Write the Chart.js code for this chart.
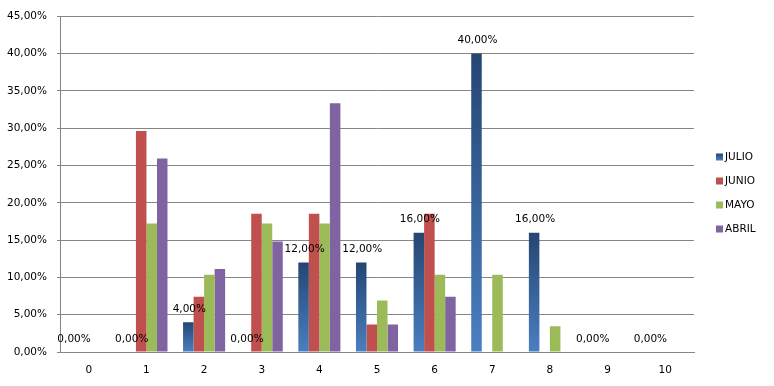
<!DOCTYPE html>
<html>
<head>
<meta charset="utf-8">
<script src="https://cdn.jsdelivr.net/npm/chart.js@4/dist/chart.umd.min.js"></script>
<style>
html,body{margin:0;padding:0;background:#fff;}
#wrap{width:774px;height:386px;}
</style>
</head>
<body>
<div id="wrap"><canvas id="c" width="774" height="386"></canvas></div>
<script>
const categories = ['0','1','2','3','4','5','6','7','8','9','10'];
const seriesNames = ['JULIO','JUNIO','MAYO','ABRIL'];
const julio = [0, 0, 0.04, 0, 0.12, 0.12, 0.16, 0.40, 0.16, 0, 0];
const junio = [0, 0.2963, 0.0741, 0.1852, 0.1852, 0.0370, 0.1852, 0, 0, 0, 0];
const mayo  = [0, 0.1724, 0.1034, 0.1724, 0.1724, 0.0690, 0.1034, 0.1034, 0.0345, 0, 0];
const abril = [0, 0.2593, 0.1111, 0.1481, 0.3333, 0.0370, 0.0741, 0, 0, 0, 0];
const yTicks = [0,0.05,0.10,0.15,0.20,0.25,0.30,0.35,0.40,0.45];

const FONT = 'DejaVu Sans';
const fmt = v => (v*100).toFixed(2).replace('.', ',') + '%';

function julioFill(ctx){
  const chart = ctx.chart;
  if (!chart.chartArea || ctx.raw === undefined) return '#3a66a0';
  const ys = chart.scales.y;
  const top = ys.getPixelForValue(ctx.raw);
  const bot = ys.getPixelForValue(0);
  if (bot - top < 1) return '#4a7ebb';
  const g = chart.ctx.createLinearGradient(0, top, 0, bot);
  g.addColorStop(0, '#254673');
  g.addColorStop(1, '#4a7fc0');
  return g;
}

const labelPlugin = {
  id: 'julioLabels',
  afterDatasetsDraw(chart){
    const meta = chart.getDatasetMeta(0);
    const c = chart.ctx;
    c.save();
    c.font = '10.5px "' + FONT + '"';
    c.fillStyle = '#000';
    c.textAlign = 'center';
    c.textBaseline = 'middle';
    meta.data.forEach((bar, i) => {
      c.fillText(fmt(julio[i]), bar.x + 1, bar.y - 13);
    });
    c.restore();
  }
};

const legendPlugin = {
  id: 'sideLegend',
  afterDraw(chart){
    const c = chart.ctx;
    const x = chart.chartArea.right + 22;
    const y0 = 157;
    c.save();
    c.font = '10.5px "' + FONT + '"';
    c.textBaseline = 'middle';
    c.textAlign = 'left';
    const cols = ['#3a66a0', '#c0504d', '#9bbb59', '#8064a2'];
    seriesNames.forEach((n, i) => {
      const y = y0 + i * 24;
      if (i === 0) {
        const g = c.createLinearGradient(0, y - 3.5, 0, y + 3.5);
        g.addColorStop(0, '#254673'); g.addColorStop(1, '#4a7fc0');
        c.fillStyle = g;
      } else c.fillStyle = cols[i];
      c.fillRect(x, y - 3.5, 7, 7);
      c.fillStyle = '#000';
      c.fillText(n, x + 9, y + 0.5);
    });
    c.restore();
  }
};

new Chart(document.getElementById('c'), {
  type: 'bar',
  data: {
    labels: categories,
    datasets: [
      {label: seriesNames[0], data: julio, backgroundColor: julioFill},
      {label: seriesNames[1], data: junio, backgroundColor: '#c0504d'},
      {label: seriesNames[2], data: mayo, backgroundColor: '#9bbb59'},
      {label: seriesNames[3], data: abril, backgroundColor: '#8064a2'}
    ]
  },
  options: {
    responsive: false,
    animation: false,
    devicePixelRatio: 1,
    layout: {padding: {left: 0, right: 80, top: 14, bottom: 0}},
    datasets: {bar: {categoryPercentage: 0.73, barPercentage: 1, borderWidth: 0}},
    plugins: {legend: {display: false}, tooltip: {enabled: false}},
    scales: {
      x: {
        grid: {display: false, drawTicks: false},
        border: {display: true, color: '#868686'},
        ticks: {color: '#000', font: {family: FONT, size: 10.5}, padding: 12},
        afterFit(s){ s.height = 34; }
      },
      y: {
        min: 0, max: 0.45,
        afterBuildTicks(s){ s.ticks = yTicks.map(v => ({value: v})); },
        grid: {color: '#868686', tickLength: 3, drawTicks: true},
        border: {display: true, color: '#868686'},
        ticks: {color: '#000', font: {family: FONT, size: 10.5}, padding: 10, callback: v => fmt(v)},
        afterFit(s){ s.width = 60; }
      }
    }
  },
  plugins: [labelPlugin, legendPlugin]
});
</script>
</body>
</html>
